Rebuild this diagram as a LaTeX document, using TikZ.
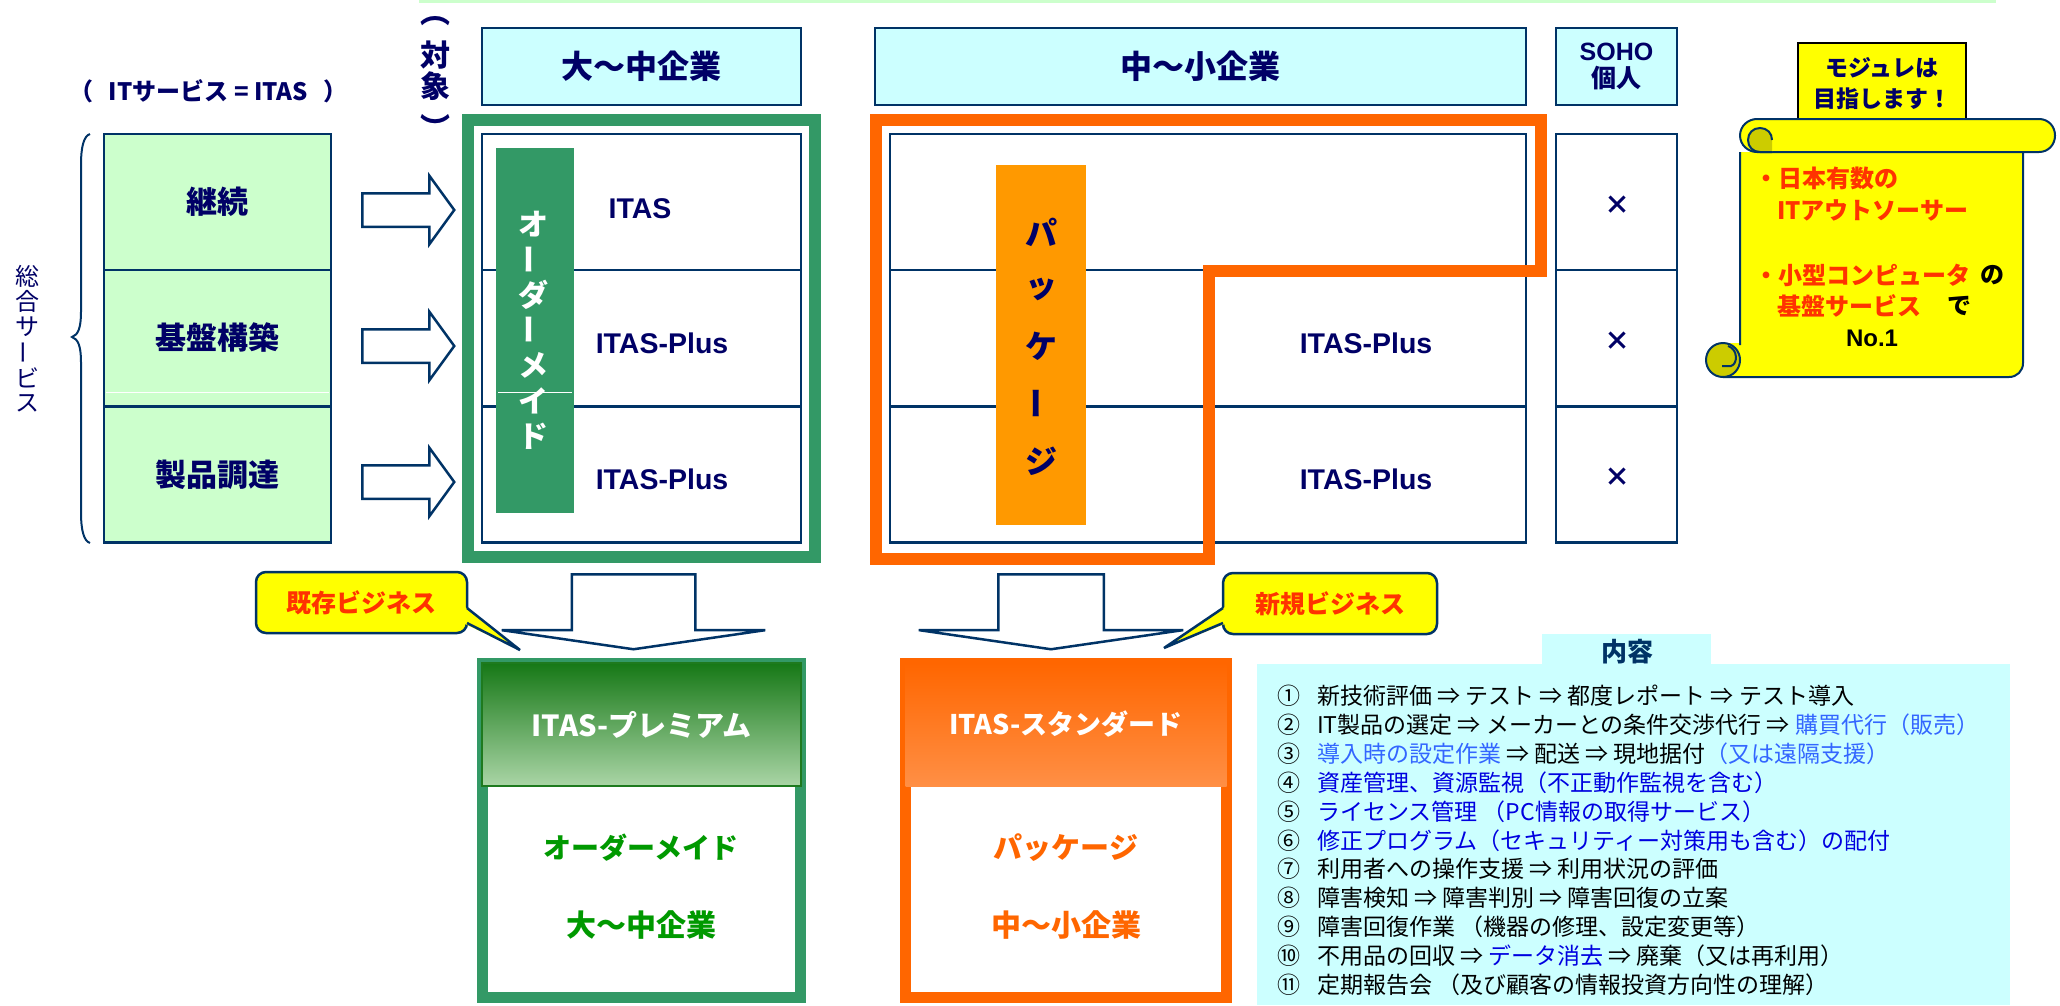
\documentclass[tikz,border=0pt]{standalone}
\usepackage{fontspec}
\setmainfont{Noto Sans CJK JP}
\newfontfamily\lat{Liberation Sans}
\usetikzlibrary{shapes.arrows}
\newcommand\fsz[1]{\fontsize{#1}{#1}\selectfont}
\newcommand\vbar{\rotatebox[origin=c]{90}{ー}}
\definecolor{navytxt}{HTML}{000066}
\definecolor{navyln}{HTML}{003366}
\definecolor{lgreen}{HTML}{CCFFCC}
\definecolor{lcyan}{HTML}{CCFFFF}
\definecolor{fgreen}{HTML}{339966}
\definecolor{orng}{HTML}{FF6600}
\definecolor{orbar}{HTML}{FF9900}
\definecolor{yel}{HTML}{FFFF00}
\definecolor{dyel}{HTML}{CCCC00}
\definecolor{redt}{HTML}{FF3300}
\definecolor{gtxt}{HTML}{009900}
\definecolor{bluel}{HTML}{3366FF}
\definecolor{blued}{HTML}{0000E0}
\definecolor{gtop}{HTML}{167816}
\definecolor{gbot}{HTML}{AAD5A6}
\definecolor{gbord}{HTML}{1E7A1E}
\definecolor{otop}{HTML}{FF6600}
\definecolor{obot}{HTML}{FF8F45}
\begin{document}
\begin{tikzpicture}[x=1pt,y=-1pt,
  lbox/.style={draw=navyln, line width=2.5pt, fill=lgreen, minimum width=227pt, minimum height=136pt, inner sep=0pt, text=navytxt, font=\fsz{31}\bfseries},
  hbox/.style={draw=navyln, line width=2.5pt, fill=lcyan, minimum height=77pt, inner sep=0pt, text=navytxt, font=\fsz{32}\bfseries},
  cell/.style={draw=navyln, line width=2.5pt, minimum height=136pt, inner sep=0pt},
  ltxt/.style={text=navytxt, font=\lat\fsz{28.5}\bfseries, inner sep=0pt},
  crs/.style={text=navytxt, font=\fsz{26}\bfseries, inner sep=0pt},
  rarrow/.style={single arrow, draw=navyln, fill=white, line width=2.5pt, inner xsep=0pt, inner ysep=15.5pt, minimum height=92pt, single arrow head extend=17.5pt, single arrow tip angle=108, anchor=tail},
  darrow/.style={single arrow, draw=navyln, fill=white, line width=2.5pt, inner xsep=0pt, minimum height=75pt, single arrow tip angle=163.5, rotate=-90, anchor=tail},
  vtxt/.style={text=white, font=\fsz{30}\bfseries, inner sep=0pt},
  vtxt2/.style={text=navytxt, font=\fsz{32}\bfseries, inner sep=0pt},
  callst/.style={draw=navyln, line width=2.5pt, fill=yel, rounded corners=10pt, inner sep=0pt, text=redt, font=\fsz{25}\bfseries},
  sctxt/.style={inner sep=0pt, font=\fsz{24}\bfseries},
  lline/.style={anchor=west, inner sep=0pt, font=\fsz{23}, text height=20pt, text depth=3pt}
]
\useasboundingbox (0,0) rectangle (2060,1005);
\fill[white] (0,0) rectangle (2060,1005);
\fill[lgreen] (419,0) rectangle (1996,3);

% title and brace
\node[text=navytxt, font=\fsz{24}\bfseries, inner sep=0pt] (ttl) at (208.5,91) {（\hspace{15pt}ITサービス = ITAS\hspace{15pt}）};
\draw[navyln, line width=2pt] (90,134) .. controls (84,136) and (81,146) .. (81,165) -- (81,312) .. controls (81,328) and (78,335) .. (72,337) .. controls (78,339) and (81,346) .. (81,362) -- (81,512) .. controls (81,531) and (84,541) .. (90,543);
\foreach \ch [count=\i from 0] in {総,合,サ,\vbar,ビ,ス}
  \node[text=navytxt, font=\fsz{24}, inner sep=0pt] (sg\i) at (27,{276+25.5*\i}) {\ch};

% left boxes
\node[lbox] (s1) at (217.5,202) {継続};
\node[lbox] (s2) at (217.5,338) {基盤構築};
\node[lbox] (s3) at (217.5,474.5) {製品調達};
\draw[white, line width=1pt] (106,392) -- (329,392);

% right arrows
\node[rarrow] (a1) at (361,210) {};
\node[rarrow] (a2) at (361,346) {};
\node[rarrow] (a3) at (361,482) {};

% vertical (taisho)
\node[text=navytxt, font=\fsz{30}\bfseries, inner sep=0pt] (tg1) at (435,21) {︵};
\node[text=navytxt, font=\fsz{30}\bfseries, inner sep=0pt] (tg2) at (435,55) {対};
\node[text=navytxt, font=\fsz{30}\bfseries, inner sep=0pt] (tg3) at (435,86) {象};
\node[text=navytxt, font=\fsz{30}\bfseries, inner sep=0pt] (tg4) at (435,127) {︶};

% headers
\node[hbox, minimum width=319pt] (h1) at (641.5,66.5) {大〜中企業};
\node[hbox, minimum width=651pt] (h2) at (1200.5,66.5) {中〜小企業};
\node[hbox, minimum width=121pt, align=center, font=\fsz{25}\bfseries] (h3) at (1616.5,66.5) {{\lat SOHO}\\[2pt]個人};

% large-mid table
\node[draw=fgreen, line width=12pt, minimum width=347pt, minimum height=437pt, inner sep=0pt] (gframe) at (641.5,338.5) {};
\node[cell, minimum width=319pt] (c11) at (641.5,202) {};
\node[cell, minimum width=319pt] (c12) at (641.5,338) {};
\node[cell, minimum width=319pt] (c13) at (641.5,474.5) {};
\node[fill=fgreen, minimum width=78pt, minimum height=365pt, inner sep=0pt] (gbar) at (535,330.5) {};
\draw[white, line width=1pt] (498,392) -- (572,392);
\foreach \ch [count=\i from 0] in {オ,\vbar,ダ,\vbar,メ,イ,ド}
  \node[vtxt] (od\i) at (533,{224+35.3*\i}) {\ch};
\node[ltxt] (tx1) at (640,209) {ITAS};
\node[ltxt] (tx2) at (662,343) {ITAS-Plus};
\node[ltxt] (tx3) at (662,479) {ITAS-Plus};

% mid-small table
\node[cell, minimum width=636pt] (c21) at (1208,202) {};
\node[cell, minimum width=636pt] (c22) at (1208,338) {};
\node[cell, minimum width=636pt] (c23) at (1208,474.5) {};
\node[ltxt] (tx4) at (1366,343) {ITAS-Plus};
\node[ltxt] (tx5) at (1366,479) {ITAS-Plus};
\node[fill=orbar, minimum width=90pt, minimum height=360pt, inner sep=0pt] (obar) at (1041,345) {};
\foreach \ch [count=\i from 0] in {パ,ッ,ケ,\vbar,ジ}
  \node[vtxt2] (pk\i) at (1041,{232+57.2*\i}) {\ch};
\draw[orng, line width=12pt, line join=miter] (875.5,119.5) -- (1540.5,119.5) -- (1540.5,270.5) -- (1209,270.5) -- (1209,558.5) -- (875.5,558.5) -- cycle;

% SOHO column
\node[cell, minimum width=121pt] (c31) at (1616.5,202) {};
\node[cell, minimum width=121pt] (c32) at (1616.5,338) {};
\node[cell, minimum width=121pt] (c33) at (1616.5,474.5) {};
\node[crs] (x1) at (1617,205) {×};
\node[crs] (x2) at (1617,341) {×};
\node[crs] (x3) at (1617,477) {×};

% goal box and scroll
\node[draw=black, line width=2pt, fill=yel, minimum width=168pt, minimum height=82pt, inner sep=0pt, align=center, text=navytxt, font=\fsz{23}\bfseries] (goal) at (1882,84) {モジュレは\\[8pt]目指します！};
\fill[yel] (1740,152) -- (2023,152) -- (2023,363) .. controls (2023,371) and (2017,377) .. (2009,377) -- (1723,377) -- (1723,343) -- (1740,343) -- cycle;
\draw[navyln, line width=2pt] (1740,345) -- (1740,152) (2023,152) -- (2023,363) .. controls (2023,371) and (2017,377) .. (2009,377) -- (1723,377);
\draw[navyln, line width=2pt, fill=yel] (1757,119) -- (2039,119) .. controls (2048,119) and (2055,126) .. (2055,135.5) .. controls (2055,145) and (2048,152) .. (2039,152) -- (1757,152) .. controls (1748,152) and (1740,145) .. (1740,135.5) .. controls (1740,126) and (1748,119) .. (1757,119) -- cycle;
\draw[navyln, line width=2pt, fill=dyel] (1772,140) .. controls (1772,133) and (1767,128) .. (1760,128) .. controls (1753,128) and (1748,133) .. (1748,140) .. controls (1748,147) and (1753,152) .. (1760,152) -- (1772,152);
\draw[navyln, line width=2pt, fill=dyel] (1723,343) .. controls (1713,343) and (1706,351) .. (1706,360) .. controls (1706,369) and (1713,377) .. (1723,377) .. controls (1733,377) and (1740,369) .. (1740,360) .. controls (1740,351) and (1733,343) .. (1723,343) -- cycle;
\draw[navyln, line width=2pt] (1728,346) .. controls (1738,349) and (1738,364) .. (1731,366) -- (1722,366);
\node[sctxt, anchor=west, text=redt] (sc1) at (1754,178) {・日本有数の};
\node[sctxt, anchor=west, text=redt] (sc2) at (1777,210) {ITアウトソーサー};
\node[sctxt, anchor=west, text=redt] (sc3) at (1754,275) {・小型コンピュータ};
\node[sctxt, text=black] (sc4) at (1992,275) {の};
\node[sctxt, anchor=west, text=redt] (sc5) at (1777,306) {基盤サービス};
\node[sctxt, text=black] (sc6) at (1959,306) {で};
\node[sctxt, text=black, font=\lat\fsz{24}\bfseries] (sc7) at (1872,338) {No.1};

% down arrows
\node[darrow, inner ysep=60.5pt, single arrow head extend=70pt] (d1) at (633.5,573) {};
\node[darrow, inner ysep=51.5pt, single arrow head extend=79.5pt] (d2) at (1051,573) {};

% callouts
\node[callst, minimum width=211pt, minimum height=61pt] (cb1) at (361.5,602.5) {既存ビジネス};
\fill[yel] (465,607) -- (520,650) -- (465,624) -- cycle;
\draw[navyln, line width=2.5pt] (467,608) -- (520,650) -- (467,623);
\node[callst, minimum width=214pt, minimum height=61pt] (cb2) at (1330,603.5) {新規ビジネス};
\fill[yel] (1225,607) -- (1164,648) -- (1225,624) -- cycle;
\draw[navyln, line width=2.5pt] (1223,608) -- (1164,648) -- (1223,623);

% bottom boxes
\node[draw=fgreen, line width=11pt, fill=white, minimum width=318pt, minimum height=334pt, inner sep=0pt] (pbox) at (641.5,830.5) {};
\node[top color=gtop, bottom color=gbot, draw=gbord, line width=2pt, minimum width=319pt, minimum height=123pt, inner sep=0pt, text=white, font=\fsz{29}\bfseries] (phead) at (641.5,724.5) {ITAS-プレミアム};
\node[text=gtxt, font=\fsz{28}\bfseries, inner sep=0pt] (pt1) at (641,848) {オーダーメイド};
\node[text=gtxt, font=\fsz{30}\bfseries, inner sep=0pt] (pt2) at (641,925) {大〜中企業};
\node[draw=orng, line width=11pt, fill=white, minimum width=321pt, minimum height=334pt, inner sep=0pt] (sbox) at (1066,830.5) {};
\node[top color=otop, bottom color=obot, minimum width=321pt, minimum height=123pt, inner sep=0pt, text=white, font=\fsz{27}\bfseries] (shead) at (1066,724.5) {ITAS-スタンダード};
\node[text=orng, font=\fsz{29}\bfseries, inner sep=0pt] (st1) at (1066,848) {パッケージ};
\node[text=orng, font=\fsz{30}\bfseries, inner sep=0pt] (st2) at (1066,925) {中〜小企業};

% content list
\node[fill=lcyan, minimum width=169pt, minimum height=32pt, inner sep=0pt, anchor=north west] (tab) at (1542,634) {};
\node[text=navyln, font=\fsz{26}\bfseries, inner sep=0pt] (tabt) at (1627,652) {内容};
\node[fill=lcyan, minimum width=753pt, minimum height=341pt, inner sep=0pt, anchor=north west] (lbx) at (1257,664) {};
\node[lline] (l1) at (1277,696) {\makebox[40pt][l]{①}新技術評価 ⇒ テスト ⇒ 都度レポート ⇒ テスト導入};
\node[lline] (l2) at (1277,724.9) {\makebox[40pt][l]{②}IT製品の選定 ⇒ メーカーとの条件交渉代行 ⇒ \textcolor{bluel}{購買代行（販売）}};
\node[lline] (l3) at (1277,753.8) {\makebox[40pt][l]{③}\textcolor{bluel}{導入時の設定作業} ⇒ 配送 ⇒ 現地据付\textcolor{bluel}{（又は遠隔支援）}};
\node[lline] (l4) at (1277,782.7) {\makebox[40pt][l]{④}\textcolor{blued}{資産管理、資源監視（不正動作監視を含む）}};
\node[lline] (l5) at (1277,811.6) {\makebox[40pt][l]{⑤}\textcolor{blued}{ライセンス管理 （PC情報の取得サービス）}};
\node[lline] (l6) at (1277,840.5) {\makebox[40pt][l]{⑥}\textcolor{blued}{修正プログラム（セキュリティー対策用も含む）の配付}};
\node[lline] (l7) at (1277,869.4) {\makebox[40pt][l]{⑦}利用者への操作支援 ⇒ 利用状況の評価};
\node[lline] (l8) at (1277,898.3) {\makebox[40pt][l]{⑧}障害検知 ⇒ 障害判別 ⇒ 障害回復の立案};
\node[lline] (l9) at (1277,927.2) {\makebox[40pt][l]{⑨}障害回復作業 （機器の修理、設定変更等）};
\node[lline] (l10) at (1277,956.1) {\makebox[40pt][l]{⑩}不用品の回収 ⇒ \textcolor{blued}{データ消去} ⇒ 廃棄（又は再利用）};
\node[lline] (l11) at (1277,985) {\makebox[40pt][l]{⑪}定期報告会 （及び顧客の情報投資方向性の理解）};
\end{tikzpicture}
\end{document}
